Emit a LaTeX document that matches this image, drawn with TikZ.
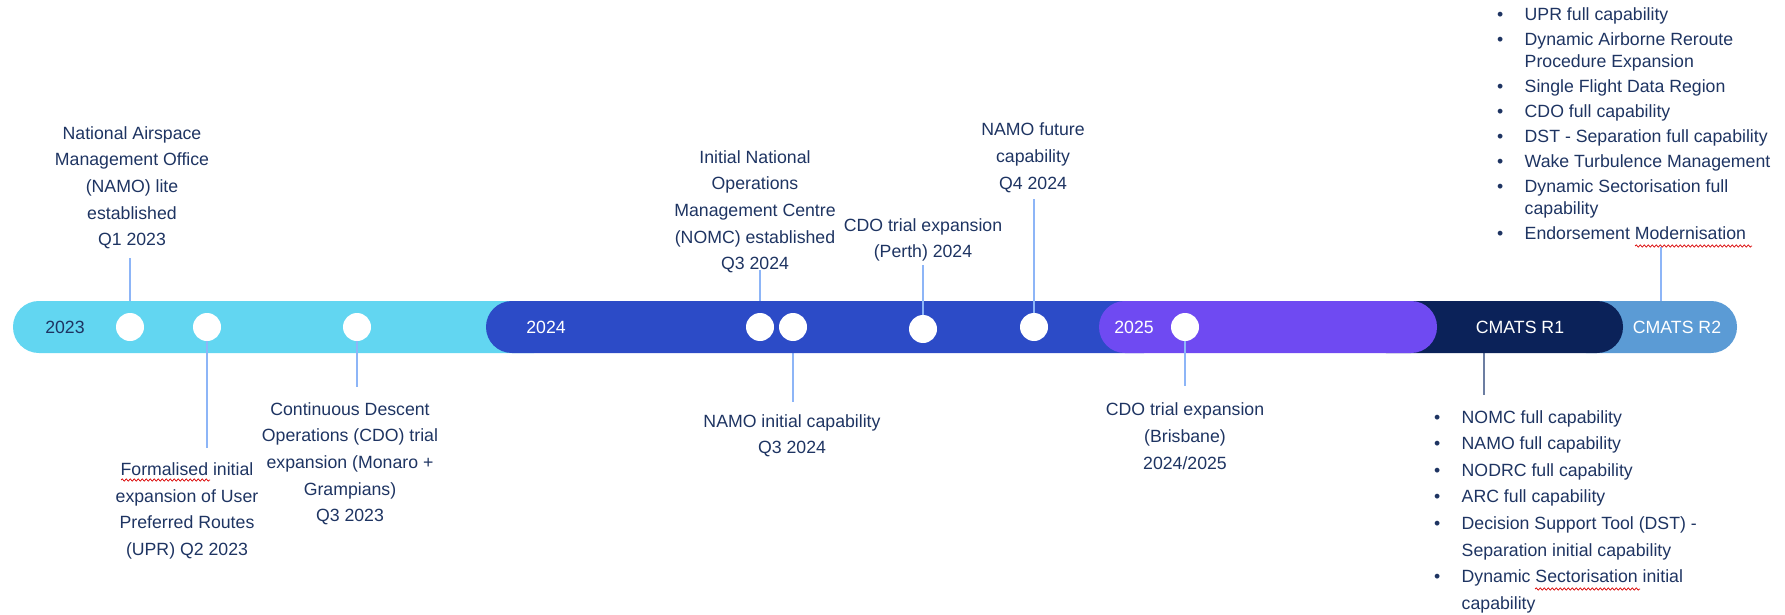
\documentclass[tikz,border=0pt]{standalone}
\usepackage{fontspec}
\setmainfont{Liberation Sans}
\usetikzlibrary{decorations.pathmorphing}

\definecolor{ink}{HTML}{1E3462}
\definecolor{yrA}{HTML}{62D6F1}
\definecolor{yrB}{HTML}{2C4BC7}
\definecolor{yrC}{HTML}{6F4AF2}
\definecolor{relA}{HTML}{0B2259}
\definecolor{relB}{HTML}{5B9BD5}
\definecolor{link}{HTML}{8DB5F7}
\definecolor{linkdark}{HTML}{6C7EA2}

\pgfdeclarelayer{behind}
\pgfsetlayers{behind,main}

% bulleted lines: a bullet column, then the text
\newlength{\bulletgap}\setlength{\bulletgap}{27.5pt}
\newcommand{\bitem}[1]{\hbox{\hbox to\bulletgap{\textbullet\hss}#1}}
\newcommand{\bmore}[1]{\hbox{\hskip\bulletgap #1}}

\tikzset{
  seg/.style={rounded corners=25.9pt},
  dot/.style={circle, fill=white, minimum size=28pt, inner sep=0pt},
  yearlbl/.style={font=\fontsize{17.7}{20}\selectfont, text=white, inner sep=0pt},
  event/.style={align=center, font=\fontsize{17.7}{26.7}\selectfont, text=ink,
    inner sep=0pt, execute at begin node={\rule{0pt}{13.5pt}},
    execute at end node={\rule[-4pt]{0pt}{4pt}}},
  bullets/.style={font=\fontsize{17.7}{22}\selectfont, text=ink, inner sep=0pt, anchor=base west},
  conn/.style={draw=link, line width=2.2pt},
  conndark/.style={draw=linkdark, line width=2.2pt},
  typo/.style={draw=red!85!black, line width=0.7pt, decorate,
    decoration={snake, amplitude=1.1pt, segment length=4pt}},
}

\begin{document}
\begin{tikzpicture}[x=1pt,y=-1pt]
\useasboundingbox (0,0) rectangle (1785,615);

% timeline bar, drawn back to front
\fill[yrA,  seg] (13,301)   rectangle (560,353);
\fill[yrB,  seg] (486,301)  rectangle (1170,353);
\fill[relB, seg] (1560,301) rectangle (1737,353);
\fill[relA, seg] (1360,301) rectangle (1623,353);
\fill[yrC,  seg] (1099,301) rectangle (1437,353);

% period labels
\node[yearlbl, text=ink] (lbl23) at (65,327)  {2023};
\node[yearlbl] (lbl24) at (546,327)  {2024};
\node[yearlbl] (lbl25) at (1134,327) {2025};
\node[yearlbl] (lblr1) at (1520,327) {CMATS R1};
\node[yearlbl] (lblr2) at (1677,327) {CMATS R2};

% milestones
\node[dot] (m1) at (130,327)  {};
\node[dot] (m2) at (207,327)  {};
\node[dot] (m3) at (357,327)  {};
\node[dot] (m4) at (760,327)  {};
\node[dot] (m5) at (793,327)  {};
\node[dot] (m6) at (923,329)  {};
\node[dot] (m7) at (1034,327) {};
\node[dot] (m8) at (1185,327) {};
\coordinate (r1) at (1484,327);
\coordinate (r2) at (1661,327);

% connector ends
\coordinate (e1)  at (130,258);
\coordinate (e2)  at (207,448);
\coordinate (e3)  at (357,387);
\coordinate (e4)  at (760,270);
\coordinate (e5)  at (793,402);
\coordinate (e6)  at (923,265);
\coordinate (e7)  at (1034,199);
\coordinate (e8)  at (1185,386);
\coordinate (er1) at (1484,395);
\coordinate (er2) at (1661,247);

% connectors that stop at the bar edge
\begin{pgfonlayer}{behind}
  \draw[conn] (m1) -- (e1);
  \draw[conn] (m4) -- (e4);
  \draw[conn] (m5) -- (e5);
  \draw[conndark] (r1) -- (er1);
  \draw[conn] (r2) -- (er2);
\end{pgfonlayer}
% connectors that reach the milestone dot
\draw[conn] (m2) -- (e2);
\draw[conn] (m3) -- (e3);
\draw[conn] (m6) -- (e6);
\draw[conn] (m7) -- (e7);
\draw[conn] (m8) -- (e8);

% milestone texts
\node[event] (t1) at (132,188) {National Airspace\\Management Office\\(NAMO) lite\\established\\Q1 2023};
\node[event] (t2) at (187,511) {Formalised initial\\expansion of User\\Preferred Routes\\(UPR) Q2 2023};
\node[event] (t3) at (350,464) {Continuous Descent\\Operations (CDO) trial\\expansion (Monaro +\\Grampians)\\Q3 2023};
\node[event] (t4) at (755,212) {Initial National\\Operations\\Management Centre\\(NOMC) established\\Q3 2024};
\node[event] (t5) at (792,436) {NAMO initial capability\\Q3 2024};
\node[event] (t6) at (923,240) {CDO trial expansion\\(Perth) 2024};
\node[event] (t7) at (1033,158) {NAMO future\\capability\\Q4 2024};
\node[event] (t8) at (1185,438) {CDO trial expansion\\(Brisbane)\\2024/2025};

% release contents
\node[bullets] (listr2) at (1497,21) {\vtop{\baselineskip=22pt
  \bitem{UPR full capability}\vskip2.9pt
  \bitem{Dynamic Airborne Reroute}
  \bmore{Procedure Expansion}\vskip2.9pt
  \bitem{Single Flight Data Region}\vskip2.9pt
  \bitem{CDO full capability}\vskip2.9pt
  \bitem{DST - Separation full capability}\vskip2.9pt
  \bitem{Wake Turbulence Management}\vskip2.9pt
  \bitem{Dynamic Sectorisation full}
  \bmore{capability}\vskip2.9pt
  \bitem{Endorsement Modernisation}}};

\node[bullets] (listr1) at (1434,423) {\vtop{\baselineskip=26.6pt
  \bitem{NOMC full capability}
  \bitem{NAMO full capability}
  \bitem{NODRC full capability}
  \bitem{ARC full capability}
  \bitem{Decision Support Tool (DST) -}
  \bmore{Separation initial capability}
  \bitem{Dynamic Sectorisation initial}
  \bmore{capability}}};

% spell-check underlines
\draw[typo] (121,480) -- (210,480);
\draw[typo] (1635,246) -- (1752,246);
\draw[typo] (1535,589) -- (1640,589);
\end{tikzpicture}
\end{document}
